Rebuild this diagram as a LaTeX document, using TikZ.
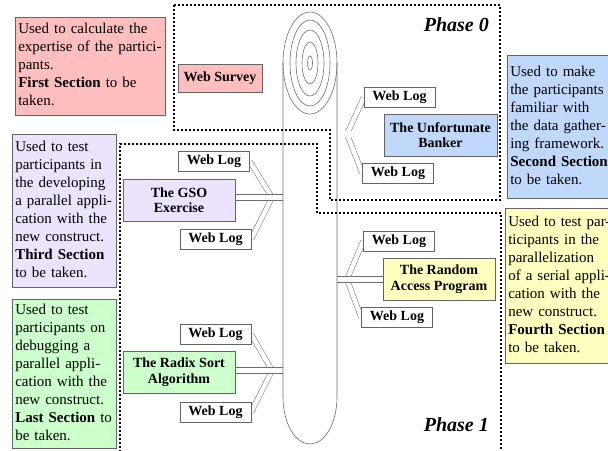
\documentclass[tikz,border=0pt]{standalone}
\usepackage{fontspec}
\setmainfont{Liberation Serif}
\usetikzlibrary{backgrounds}
\definecolor{pinkF}{RGB}{255,190,190}
\definecolor{lavF}{RGB}{236,228,255}
\definecolor{blueF}{RGB}{192,216,250}
\definecolor{yelF}{RGB}{255,255,192}
\definecolor{greenF}{RGB}{204,255,204}
\definecolor{edgeC}{RGB}{100,100,100}
\definecolor{lineC}{RGB}{110,110,110}
\begin{document}
\begin{tikzpicture}[x=1pt,y=-1pt,
  desc/.style={draw=edgeC, line width=0.6pt, anchor=north west, inner xsep=3pt, inner ysep=0pt, align=left, font=\fontsize{15}{18}\selectfont},
  lbl/.style={draw=edgeC, line width=0.6pt, align=center, inner sep=0pt, font=\fontsize{14}{15.5}\selectfont\bfseries},
  weblog/.style={lbl, fill=white, minimum width=71pt, minimum height=20pt},
  bigbox/.style={lbl, minimum width=112pt, minimum height=42pt},
  bar/.style={draw=lineC, line width=0.6pt, double=white, double distance=5.5pt},
  diag/.style={draw=lineC, line width=0.5pt, double=white, double distance=4.5pt},
  spine/.style={draw=lineC, line width=0.6pt},
  phaseline/.style={draw=black, line width=2pt, dash pattern=on 2pt off 2pt},
  phaselbl/.style={anchor=east, inner sep=0pt, font=\fontsize{20}{24}\selectfont\bfseries\itshape}
]
\useasboundingbox (0,0) rectangle (608,450);
\clip (0,0) rectangle (608,450);

% description boxes
\node[desc, fill=pinkF, text width=144pt, minimum height=98pt] (dWS) at (15,17)
  {\begin{tabular}{@{}l@{}}Used to calculate the\\expertise of the partici-\\pants.\\\textbf{First Section} to be\\taken.\end{tabular}};
\node[desc, fill=lavF, text width=98pt, minimum height=153pt] (dGSO) at (12,134)
  {\begin{tabular}{@{}l@{}}Used to test\\participants in\\the developing\\a parallel appli-\\cation with the\\new construct.\\\textbf{Third Section}\\to be taken.\end{tabular}};
\node[desc, fill=greenF, text width=98pt, minimum height=149pt] (dRS) at (12,299)
  {\begin{tabular}{@{}l@{}}Used to test\\participants on\\debugging a\\parallel appli-\\cation with the\\new construct.\\\textbf{Last Section} to\\be taken.\end{tabular}};
\node[desc, fill=blueF, text width=107pt, minimum height=143pt] (dUB) at (507,55)
  {\begin{tabular}{@{}l@{}}Used to make\\the participants\\familiar with\\the data gather-\\ing framework.\\\textbf{Second Section}\\to be taken.\end{tabular}};
\node[desc, fill=yelF, text width=107pt, minimum height=155pt] (dRA) at (505,208)
  {\begin{tabular}{@{}l@{}}Used to test par-\\ticipants in the\\parallelization\\of a serial appli-\\cation with the\\new construct.\\\textbf{Fourth Section}\\to be taken.\end{tabular}};

% main boxes
\node[lbl, fill=pinkF, minimum width=84pt, minimum height=28pt] (ws) at (220,78) {Web Survey};
\node[bigbox, fill=blueF, minimum width=113pt] (ub) at (440.5,135) {The Unfortunate\\Banker};
\node[bigbox, fill=lavF] (gso) at (179,200) {The GSO\\Exercise};
\node[bigbox, fill=yelF] (ra) at (439,279) {The Random\\Access Program};
\node[bigbox, fill=greenF] (rs) at (179,372) {The Radix Sort\\Algorithm};

% web logs
\node[weblog] (wl1) at (399.5,97.5) {Web Log};
\node[weblog] (wl2) at (398,173) {Web Log};
\node[weblog] (wl3) at (214,161.5) {Web Log};
\node[weblog] (wl4) at (215.5,239) {Web Log};
\node[weblog] (wl5) at (399,241) {Web Log};
\node[weblog] (wl6) at (397,317.5) {Web Log};
\node[weblog] (wl7) at (215.5,334.5) {Web Log};
\node[weblog] (wl8) at (215.5,412) {Web Log};

% phase labels
\node[phaselbl] (p0) at (489,25) {Phase 0};
\node[phaselbl] (p1) at (489,425) {Phase 1};

% spine points
\coordinate (sWS) at (283,78);
\coordinate (sUB) at (337,134);
\coordinate (sGSO) at (283,197.5);
\coordinate (sRA) at (337,279.5);
\coordinate (sRS) at (283,370.5);
\coordinate (jUB) at (347,134);
\coordinate (jGSO) at (272,197.5);
\coordinate (jRA) at (347,279.5);
\coordinate (jRS) at (272,370.5);

\begin{scope}[on background layer]
  % diagonals
  \draw[diag] (wl1.west) -- (jUB);
  \draw[diag] (wl2.west) -- (jUB);
  \draw[diag] (wl3.east) -- (jGSO);
  \draw[diag] (wl4.east) -- (jGSO);
  \draw[diag] (wl5.west) -- (jRA);
  \draw[diag] (wl6.west) -- (jRA);
  \draw[diag] (wl7.east) -- (jRS);
  \draw[diag] (wl8.east) -- (jRS);
  % bars
  \draw[bar] (ws.east) -- (sWS);
  \draw[bar] (ub.west |- sUB) -- (sUB);
  \draw[bar] (gso.east |- sGSO) -- (sGSO);
  \draw[bar] (ra.west |- sRA) -- (sRA);
  \draw[bar] (rs.east |- sRS) -- (sRS);
  % spine
  \draw[spine] (310,63) ellipse [x radius=27pt, y radius=51pt];
  \draw[spine] (310,63) ellipse [x radius=20pt, y radius=43pt];
  \draw[spine] (310,63) ellipse [x radius=14pt, y radius=33pt];
  \draw[spine] (310,63) ellipse [x radius=8pt, y radius=21pt];
  \draw[spine] (310,63) ellipse [x radius=2.5pt, y radius=7pt];
  \draw[spine] (283,63) -- (283,397) arc[start angle=180, end angle=360, x radius=27pt, y radius=47pt] -- (337,63);
  % phase outlines
  \draw[phaseline] (174,5) -- (500,5) -- (500,200) -- (330,200) -- (330,130) -- (174,130) -- cycle;
  \draw[phaseline] (120,456) -- (120,144) -- (317,144) -- (317,213) -- (501,213) -- (501,456);
\end{scope}
\end{tikzpicture}
\end{document}
